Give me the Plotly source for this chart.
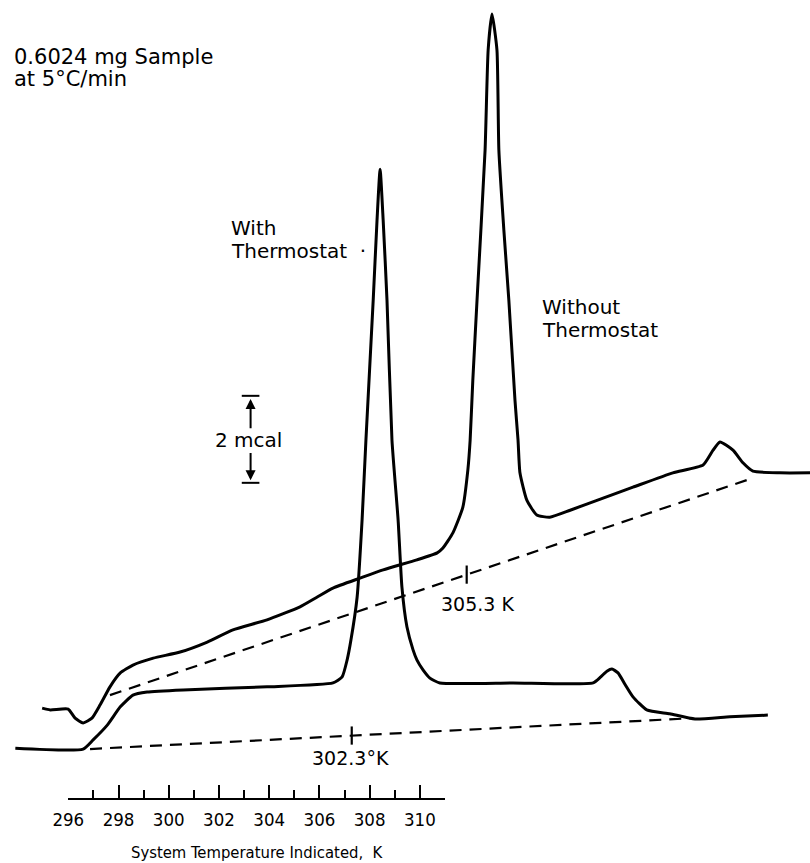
import plotly.graph_objects as go

# ---- data (temperature in K, heat flow in mcal units) ----
T_with = [293.52, 295.29, 295.55, 295.92, 296.26, 296.59, 296.96, 297.90, 300.09, 301.81,
          302.05, 302.18, 302.28, 302.44, 302.57, 302.67, 302.86, 302.96, 303.04, 303.12,
          303.22, 303.35, 303.51, 303.61, 303.74, 303.90, 304.00, 304.16, 304.34, 304.60,
          306.51, 308.60, 308.80, 308.96, 309.09, 309.25, 309.43, 309.64, 310.00, 310.60,
          311.26, 312.17, 313.16]
Q_with = [2.64, 2.62, 2.83, 3.17, 3.59, 3.86, 3.93, 3.98, 4.05, 4.14,
          4.28, 4.67, 5.13, 6.11, 7.89, 9.72, 12.94, 14.78, 15.95, 14.78,
          12.94, 9.72, 7.89, 6.34, 5.43, 4.90, 4.67, 4.44, 4.25, 4.14,
          4.14, 4.14, 4.28, 4.41, 4.46, 4.37, 4.11, 3.82, 3.52, 3.43,
          3.31, 3.36, 3.40]

T_without = [294.22, 294.43, 294.90, 295.08, 295.29, 295.52, 295.73, 295.99, 296.26, 296.59,
             297.12, 297.82, 298.53, 299.20, 300.09, 300.95, 301.39, 301.81, 302.52, 303.12,
             304.00, 304.53, 304.68, 304.94, 305.20, 305.33, 305.39, 305.46, 305.57, 305.78,
             305.86, 305.96, 306.09, 306.14, 306.27, 306.40, 306.56, 306.64, 306.69, 306.87,
             307.13, 307.47, 308.00, 308.86, 309.64, 310.68, 311.47, 311.73, 311.91, 312.25,
             312.51, 312.77, 313.47, 314.26]
Q_without = [3.56, 3.52, 3.54, 3.33, 3.22, 3.33, 3.63, 4.05, 4.37, 4.55,
             4.71, 4.85, 5.08, 5.36, 5.59, 5.89, 6.11, 6.32, 6.55, 6.74,
             6.97, 7.13, 7.24, 7.59, 8.18, 9.03, 9.72, 11.10, 12.94, 16.39,
             18.69, 19.52, 18.69, 16.39, 14.55, 12.94, 10.64, 9.72, 8.97, 8.34,
             8.00, 7.95, 8.11, 8.39, 8.64, 8.97, 9.15, 9.49, 9.68, 9.49,
             9.20, 9.01, 8.97, 8.97]

base_with_T = [295.47, 311.20]
base_with_Q = [2.62, 3.33]
base_without_T = [295.99, 312.77]
base_without_Q = [3.86, 8.85]

onset_T = [302.3, 305.3]
onset_Q = [2.93, 6.63]
onset_text = ["302.3°K", "305.3 K"]

scale_ticks = [296, 298, 300, 302, 304, 306, 308, 310, 311]
scale_labels = ["296", "298", "300", "302", "304", "306", "308", "310", ""]

scale_mcal = 2
scale_bar_T = 299.66
scale_bar_bottom = 8.74

INK = "black"
FONT = "DejaVu Sans"
NARROW = "DejaVu Sans Condensed, Liberation Sans Narrow, sans-serif"

fig = go.Figure()

fig.add_trace(go.Scatter(x=T_with, y=Q_with, mode="lines",
                         line=dict(color=INK, width=3, shape="spline", smoothing=0.5),
                         hoverinfo="skip", showlegend=False))
fig.add_trace(go.Scatter(x=T_without, y=Q_without, mode="lines",
                         line=dict(color=INK, width=3, shape="spline", smoothing=0.5),
                         hoverinfo="skip", showlegend=False))
fig.add_trace(go.Scatter(x=base_with_T, y=base_with_Q, mode="lines",
                         line=dict(color=INK, width=2.2, dash="12px,8px"),
                         hoverinfo="skip", showlegend=False))
fig.add_trace(go.Scatter(x=base_without_T, y=base_without_Q, mode="lines",
                         line=dict(color=INK, width=2.2, dash="12px,8px"),
                         hoverinfo="skip", showlegend=False))
fig.add_trace(go.Scatter(x=onset_T, y=onset_Q, mode="markers",
                         marker=dict(symbol="line-ns", size=13,
                                     line=dict(color=INK, width=2.2)),
                         hoverinfo="skip", showlegend=False))
# invisible trace so the temperature scale bar axis is drawn
fig.add_trace(go.Scatter(x=[scale_ticks[0], scale_ticks[-1]], y=[None, None],
                         xaxis="x2", yaxis="y", mode="markers",
                         hoverinfo="skip", showlegend=False))

# 2 mcal scale bar
bar_top = scale_bar_bottom + scale_mcal
for yv in (bar_top, scale_bar_bottom):
    fig.add_shape(type="line", xref="x", yref="y",
                  x0=scale_bar_T - 0.23, x1=scale_bar_T + 0.23, y0=yv, y1=yv,
                  line=dict(color=INK, width=2))
fig.add_annotation(x=scale_bar_T, y=bar_top - 0.07, ax=scale_bar_T, ay=bar_top - 0.78,
                   xref="x", yref="y", axref="x", ayref="y", text="",
                   showarrow=True, arrowhead=2, arrowsize=1, arrowwidth=2, arrowcolor=INK)
fig.add_annotation(x=scale_bar_T, y=scale_bar_bottom + 0.06, ax=scale_bar_T,
                   ay=scale_bar_bottom + 0.72,
                   xref="x", yref="y", axref="x", ayref="y", text="",
                   showarrow=True, arrowhead=2, arrowsize=1, arrowwidth=2, arrowcolor=INK)

def label(text, x, y, xanchor="left", size=20):
    fig.add_annotation(text=text, x=x, y=y, xref="paper", yref="paper",
                       xanchor=xanchor, yanchor="middle", showarrow=False,
                       font=dict(family=FONT, size=size, color=INK))

label("0.6024 mg Sample", 0.0144, 0.934, size=21)
label("at 5°C/min", 0.0144, 0.9085, size=21)
label("With", 0.2827, 0.7358)
label("Thermostat  ·", 0.2827, 0.7086)
label("Without", 0.6667, 0.6443)
label("Thermostat", 0.6667, 0.6176)
label("2 mcal", 0.3062, 0.4902, xanchor="center")
label(onset_text[0], 0.4321, 0.1217, xanchor="center", size=19)
label(onset_text[1], 0.5889, 0.3001, xanchor="center", size=19)

fig.update_layout(
    width=810, height=863,
    margin=dict(l=0, r=0, t=0, b=0),
    paper_bgcolor="white", plot_bgcolor="rgba(0,0,0,0)",
    template="none",
    showlegend=False,
    xaxis=dict(range=[293.12, 314.26], visible=False, domain=[0, 1], automargin=False),
    yaxis=dict(range=[0, 19.84], visible=False, domain=[0, 1], automargin=False),
    xaxis2=dict(domain=[0.0843, 0.5494], range=[296, 311], anchor="free", position=0.0742,
                showline=True, linecolor=INK, linewidth=2,
                ticks="inside", ticklen=13, tickwidth=2, tickcolor=INK,
                tickvals=scale_ticks, ticktext=scale_labels,
                minor=dict(dtick=1, tick0=296, ticks="inside", ticklen=8,
                           tickwidth=2, tickcolor=INK),
                showgrid=False, zeroline=False, automargin=False,
                ticklabelstandoff=4,
                tickfont=dict(family=NARROW, size=18.5, color=INK),
                title=dict(text="System Temperature Indicated,  K", standoff=16,
                           font=dict(family=NARROW, size=16.5, color=INK))),
)

fig.write_html("out.html", config={"displayModeBar": False},
               post_script="document.body.style.margin='0';document.body.style.padding='0';")
